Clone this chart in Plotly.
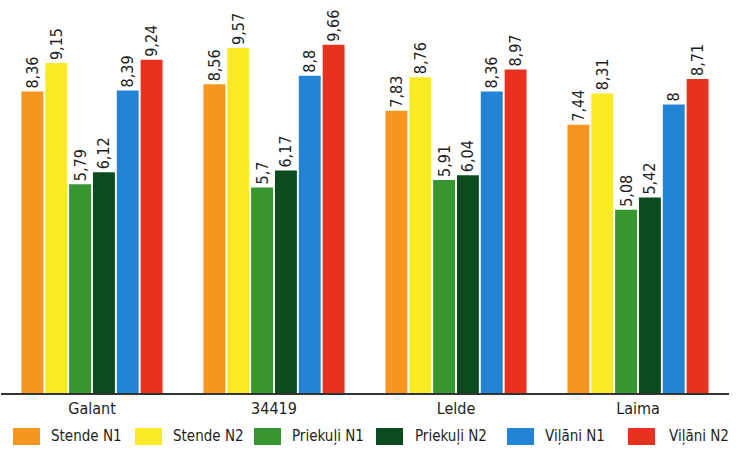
import plotly.graph_objects as go

varieties = ["Galant", "34419", "Lelde", "Laima"]
series_names = ["Stende N1", "Stende N2", "Priekuļi N1", "Priekuļi N2", "Viļāni N1", "Viļāni N2"]
stende_n1 = [8.36, 8.56, 7.83, 7.44]
stende_n2 = [9.15, 9.57, 8.76, 8.31]
priekuli_n1 = [5.79, 5.7, 5.91, 5.08]
priekuli_n2 = [6.12, 6.17, 6.04, 5.42]
vilani_n1 = [8.39, 8.8, 8.36, 8.0]
vilani_n2 = [9.24, 9.66, 8.97, 8.71]
colors = ["#F7961E", "#F9EA26", "#37962F", "#0C4A1F", "#2384D6", "#E8321F"]

series_values = [stende_n1, stende_n2, priekuli_n1, priekuli_n2, vilani_n1, vilani_n2]

FONT = "DejaVu Sans Condensed, Liberation Sans Narrow, sans-serif"
TEXT = "#1e1e1e"

W, H = 740, 450
ML, MR, MT, MB = 1, 11, 0, 57
PW, PH = W - ML - MR, H - MT - MB


def fmt(v):
    return ("%g" % v).replace(".", ",")


def px(x):
    return (x - ML) / PW


def py(y):
    return (H - MB - y) / PH


fig = go.Figure()
for name, vals, col in zip(series_names, series_values, colors):
    fig.add_trace(go.Bar(
        x=varieties, y=vals, name=name, marker_color=col, marker_line_width=0,
        text=[fmt(v) for v in vals], textposition="outside", textangle=-90,
        textfont=dict(family=FONT, size=16, color=TEXT), cliponaxis=False,
        showlegend=False,
    ))

# legend row: colour key followed by the series name
key_left = [13, 135, 254, 376, 507, 628]
label_left = [49, 171, 290, 413, 543, 667]
shapes, annotations = [], []
for name, col, kx, lx in zip(series_names, colors, key_left, label_left):
    shapes.append(dict(type="rect", xref="paper", yref="paper",
                       x0=px(kx), x1=px(kx + 27), y0=py(445), y1=py(428),
                       fillcolor=col, line_width=0))
    annotations.append(dict(xref="paper", yref="paper", x=px(lx), y=py(436),
                            xanchor="left", yanchor="middle", showarrow=False,
                            text=name, font=dict(family=FONT, size=15, color=TEXT)))

fig.update_layout(
    width=W, height=H,
    margin=dict(l=ML, r=MR, t=MT, b=MB),
    paper_bgcolor="white", plot_bgcolor="white",
    barmode="group", bargap=0.214, bargroupgap=0.08,
    uniformtext=dict(minsize=16, mode="show"),
    font=dict(family=FONT, size=16, color=TEXT),
    showlegend=False,
    shapes=shapes, annotations=annotations,
    xaxis=dict(showline=True, linecolor="#333", linewidth=2, ticks="",
               tickfont=dict(family=FONT, size=16, color=TEXT), showgrid=False),
    yaxis=dict(range=[0, 10.9], visible=False, showgrid=False),
)

fig.write_html("out.html")
